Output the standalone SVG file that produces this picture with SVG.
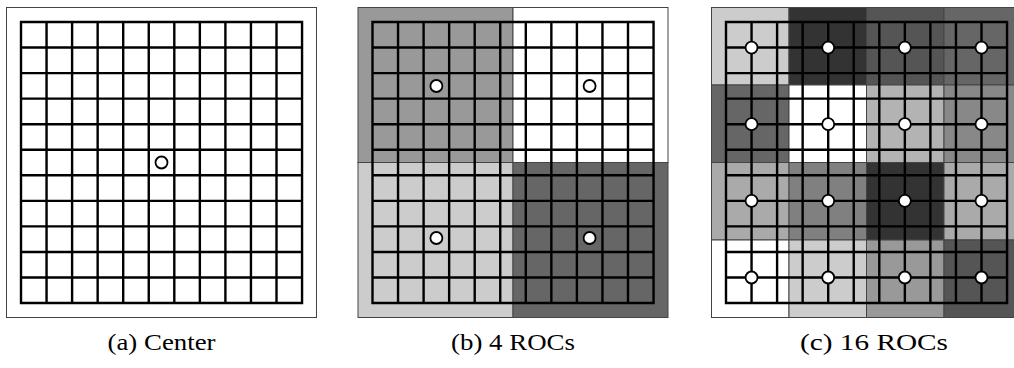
<svg xmlns="http://www.w3.org/2000/svg" xmlns:xlink="http://www.w3.org/1999/xlink" width="1014" height="368" viewBox="0 0 1014 368">
<style>
.frame{stroke:#444;stroke-width:1;}
.grid{fill:none;stroke:#000;stroke-width:2.4;stroke-linecap:square;}
.dot{fill:#fff;stroke:#000;stroke-width:1.8;}
.cap{font-family:"Liberation Serif","Times New Roman",serif;font-size:24px;fill:#000;text-anchor:middle;}
</style>
<defs>
<path id="grid" class="grid" d="M0 0V281.05M25.55 0V281.05M51.1 0V281.05M76.65 0V281.05M102.2 0V281.05M127.75 0V281.05M153.3 0V281.05M178.85 0V281.05M204.4 0V281.05M229.95 0V281.05M255.5 0V281.05M281.05 0V281.05M0 0H281.05M0 25.55H281.05M0 51.1H281.05M0 76.65H281.05M0 102.2H281.05M0 127.75H281.05M0 153.3H281.05M0 178.85H281.05M0 204.4H281.05M0 229.95H281.05M0 255.5H281.05M0 281.05H281.05"/>
</defs>
<rect width="1014" height="368" fill="#fff"/>
<g id="panel-a">
<rect class="frame" x="6.5" y="7.5" width="310" height="310" fill="#fff"/>
<use xlink:href="#grid" href="#grid" transform="translate(21,22)"/>
<circle class="dot" cx="161.5" cy="162.5" r="6"/>
<text class="cap" x="161.5" y="350" textLength="108" lengthAdjust="spacingAndGlyphs">(a)  Center</text>
</g>
<g id="panel-b">
<rect class="frame" x="358" y="7.5" width="155" height="155" fill="#999"/>
<rect class="frame" x="513" y="7.5" width="155" height="155" fill="#fff"/>
<rect class="frame" x="358" y="162.5" width="155" height="155" fill="#ccc"/>
<rect class="frame" x="513" y="162.5" width="155" height="155" fill="#666"/>
<use xlink:href="#grid" href="#grid" transform="translate(372.5,22)"/>
<circle class="dot" cx="436.4" cy="86" r="6"/>
<circle class="dot" cx="589.6" cy="86" r="6"/>
<circle class="dot" cx="436.4" cy="238" r="6"/>
<circle class="dot" cx="589.6" cy="238" r="6"/>
<text class="cap" x="513" y="350" textLength="124" lengthAdjust="spacingAndGlyphs">(b)  4 ROCs</text>
</g>
<g id="panel-c">
<rect class="frame" x="711.5" y="7.5" width="77.5" height="77.5" fill="#ccc"/>
<rect class="frame" x="789" y="7.5" width="77.5" height="77.5" fill="#333"/>
<rect class="frame" x="866.5" y="7.5" width="77.5" height="77.5" fill="#555"/>
<rect class="frame" x="944" y="7.5" width="77.5" height="77.5" fill="#666"/>
<rect class="frame" x="711.5" y="85" width="77.5" height="77.5" fill="#666"/>
<rect class="frame" x="789" y="85" width="77.5" height="77.5" fill="#fff"/>
<rect class="frame" x="866.5" y="85" width="77.5" height="77.5" fill="#b3b3b3"/>
<rect class="frame" x="944" y="85" width="77.5" height="77.5" fill="#888"/>
<rect class="frame" x="711.5" y="162.5" width="77.5" height="77.5" fill="#aaa"/>
<rect class="frame" x="789" y="162.5" width="77.5" height="77.5" fill="#808080"/>
<rect class="frame" x="866.5" y="162.5" width="77.5" height="77.5" fill="#333"/>
<rect class="frame" x="944" y="162.5" width="77.5" height="77.5" fill="#aaa"/>
<rect class="frame" x="711.5" y="240" width="77.5" height="77.5" fill="#fff"/>
<rect class="frame" x="789" y="240" width="77.5" height="77.5" fill="#ccc"/>
<rect class="frame" x="866.5" y="240" width="77.5" height="77.5" fill="#999"/>
<rect class="frame" x="944" y="240" width="77.5" height="77.5" fill="#555"/>
<use xlink:href="#grid" href="#grid" transform="translate(726,22)"/>
<circle class="dot" cx="751.55" cy="47.55" r="6"/>
<circle class="dot" cx="828.2" cy="47.55" r="6"/>
<circle class="dot" cx="904.85" cy="47.55" r="6"/>
<circle class="dot" cx="981.5" cy="47.55" r="6"/>
<circle class="dot" cx="751.55" cy="124.2" r="6"/>
<circle class="dot" cx="828.2" cy="124.2" r="6"/>
<circle class="dot" cx="904.85" cy="124.2" r="6"/>
<circle class="dot" cx="981.5" cy="124.2" r="6"/>
<circle class="dot" cx="751.55" cy="200.85" r="6"/>
<circle class="dot" cx="828.2" cy="200.85" r="6"/>
<circle class="dot" cx="904.85" cy="200.85" r="6"/>
<circle class="dot" cx="981.5" cy="200.85" r="6"/>
<circle class="dot" cx="751.55" cy="277.5" r="6"/>
<circle class="dot" cx="828.2" cy="277.5" r="6"/>
<circle class="dot" cx="904.85" cy="277.5" r="6"/>
<circle class="dot" cx="981.5" cy="277.5" r="6"/>
<text class="cap" x="874" y="350" textLength="148" lengthAdjust="spacingAndGlyphs">(c)  16 ROCs</text>
</g>
</svg>
